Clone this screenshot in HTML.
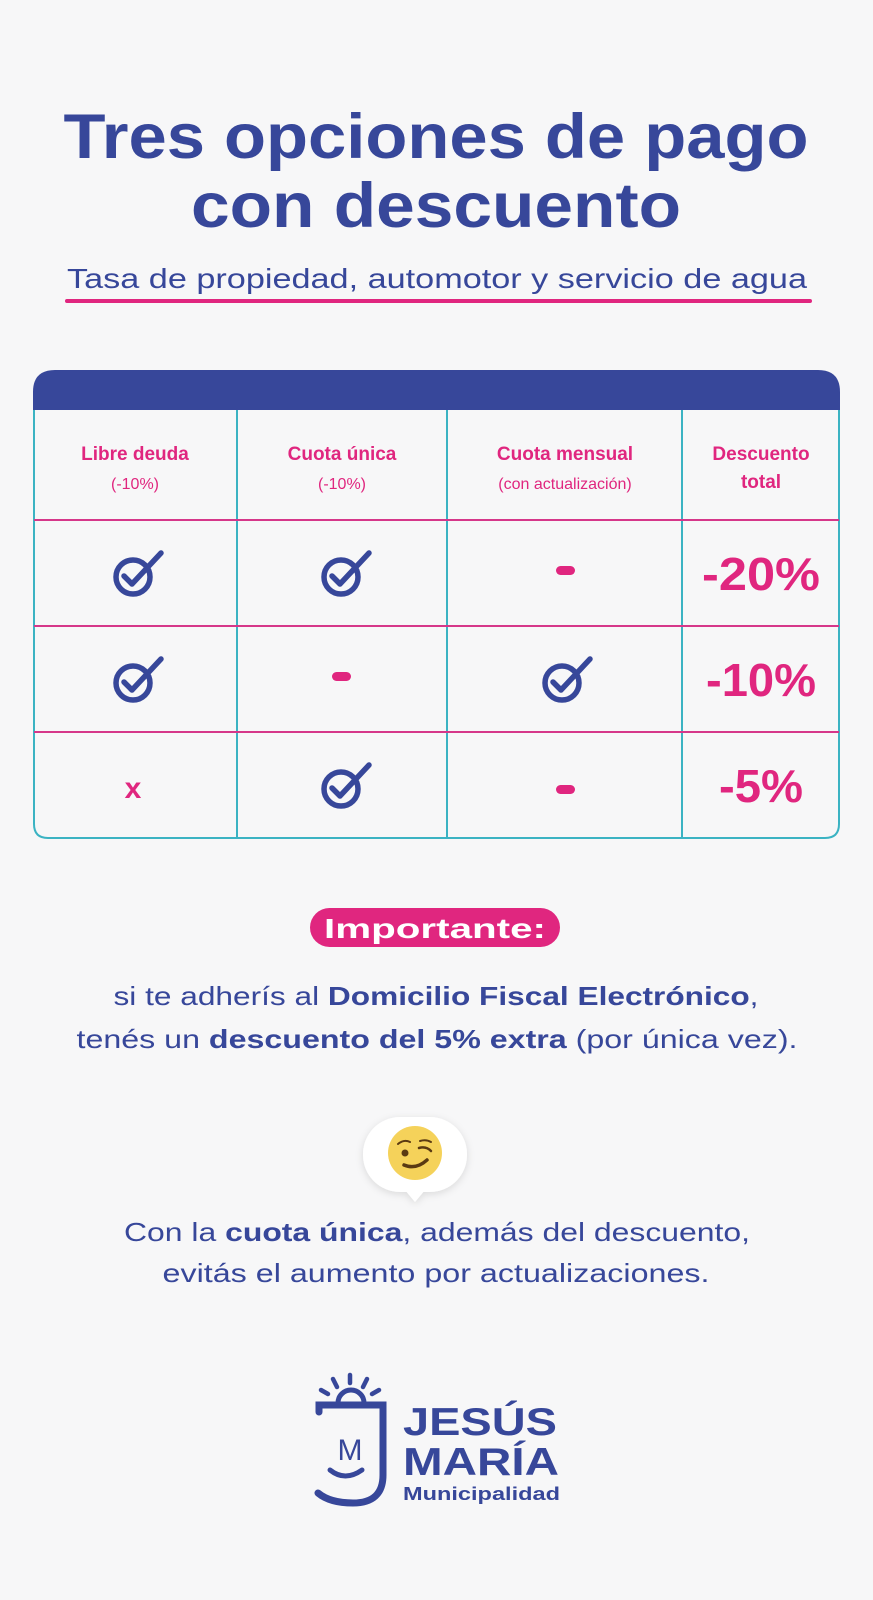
<!DOCTYPE html>
<html><head><meta charset="utf-8"><style>
html,body{margin:0;padding:0;background:#f7f7f8}
svg{display:block}
text{font-family:"Liberation Sans",sans-serif}
</style></head><body>
<svg width="873" height="1600" viewBox="0 0 873 1600" xmlns="http://www.w3.org/2000/svg">
<defs>
<g id="chk"><circle cx="0" cy="0" r="17" fill="none" stroke="#37479a" stroke-width="5.5"/><path d="M-9,-1 L-1,7 L28,-24" fill="none" stroke="#37479a" stroke-width="5.5" stroke-linecap="round" stroke-linejoin="round"/></g>
<filter id="sh" x="-30%" y="-30%" width="160%" height="160%"><feDropShadow dx="0" dy="2" stdDeviation="4" flood-color="#000" flood-opacity="0.12"/></filter>
</defs>
<rect width="873" height="1600" fill="#f7f7f8"/>
<text x="436" y="158" text-anchor="middle" font-size="63" font-weight="bold" fill="#37479a" textLength="745" lengthAdjust="spacingAndGlyphs">Tres opciones de pago</text>
<text x="436" y="227" text-anchor="middle" font-size="63" font-weight="bold" fill="#37479a" textLength="490" lengthAdjust="spacingAndGlyphs">con descuento</text>
<text x="437" y="288" text-anchor="middle" font-size="28" fill="#37479a" textLength="740" lengthAdjust="spacingAndGlyphs">Tasa de propiedad, automotor y servicio de agua</text>
<rect x="65" y="299" width="747" height="4" rx="2" fill="#e0267f"/>
<path d="M33,410 V392 Q33,370 55,370 H818 Q840,370 840,392 V410 Z" fill="#37479a"/>
<path d="M34,410 V824 Q34,838 48,838 H825 Q839,838 839,824 V410" fill="none" stroke="#3bb3c3" stroke-width="2"/>
<g stroke="#3bb3c3" stroke-width="2"><line x1="237" y1="410" x2="237" y2="838"/><line x1="447" y1="410" x2="447" y2="838"/><line x1="682" y1="410" x2="682" y2="838"/></g>
<g stroke="#d6378a" stroke-width="2"><line x1="34" y1="520" x2="839" y2="520"/><line x1="34" y1="626" x2="839" y2="626"/><line x1="34" y1="732" x2="839" y2="732"/></g>
<g fill="#e0267f" text-anchor="middle">
<text x="135" y="460" font-size="19" font-weight="bold">Libre deuda</text>
<text x="135" y="489" font-size="16">(-10%)</text>
<text x="342" y="460" font-size="19" font-weight="bold">Cuota única</text>
<text x="342" y="489" font-size="16">(-10%)</text>
<text x="565" y="460" font-size="19" font-weight="bold">Cuota mensual</text>
<text x="565" y="489" font-size="16">(con actualización)</text>
<text x="761" y="460" font-size="19" font-weight="bold">Descuento</text>
<text x="761" y="488" font-size="19" font-weight="bold">total</text>
<text x="761" y="590" font-size="46" font-weight="bold" textLength="118" lengthAdjust="spacingAndGlyphs">-20%</text>
<text x="761" y="696" font-size="46" font-weight="bold" textLength="110" lengthAdjust="spacingAndGlyphs">-10%</text>
<text x="761" y="802" font-size="46" font-weight="bold" textLength="84" lengthAdjust="spacingAndGlyphs">-5%</text>
<text x="133" y="798" font-size="30" font-weight="bold">x</text>
</g>
<use href="#chk" x="133" y="577"/>
<use href="#chk" x="341" y="577"/>
<use href="#chk" x="133" y="683"/>
<use href="#chk" x="562" y="683"/>
<use href="#chk" x="341" y="789"/>
<g fill="#e0267f"><rect x="556" y="566" width="19" height="9" rx="4.5"/><rect x="332" y="672" width="19" height="9" rx="4.5"/><rect x="556" y="785" width="19" height="9" rx="4.5"/></g>
<rect x="310" y="908" width="250" height="39" rx="19.5" fill="#e0267f"/>
<text x="435" y="938" text-anchor="middle" font-size="28" font-weight="bold" fill="#fff" textLength="222" lengthAdjust="spacingAndGlyphs">Importante:</text>
<text x="436" y="1005" text-anchor="middle" font-size="26" fill="#37479a" textLength="645" lengthAdjust="spacingAndGlyphs">si te adherís al <tspan font-weight="bold">Domicilio Fiscal Electrónico</tspan>,</text>
<text x="437" y="1048" text-anchor="middle" font-size="26" fill="#37479a" textLength="721" lengthAdjust="spacingAndGlyphs">tenés un <tspan font-weight="bold">descuento del 5% extra</tspan> (por única vez).</text>
<g filter="url(#sh)"><rect x="363" y="1117" width="104" height="75" rx="37" fill="#fff"/><path d="M405,1190 L415,1202 L425,1190 Z" fill="#fff"/></g>
<circle cx="415" cy="1153" r="27" fill="#f5d25a"/>
<circle cx="405" cy="1153" r="3.5" fill="#5a3a12"/>
<path d="M398,1144 Q404,1139 410,1142" fill="none" stroke="#5a3a12" stroke-width="2" stroke-linecap="round"/>
<path d="M419,1148 Q426,1146 431,1151" fill="none" stroke="#5a3a12" stroke-width="2.5" stroke-linecap="round"/>
<path d="M420,1141 Q426,1139 431,1142" fill="none" stroke="#5a3a12" stroke-width="2" stroke-linecap="round"/>
<path d="M404,1165 Q416,1170 427,1160" fill="none" stroke="#5a3a12" stroke-width="3.5" stroke-linecap="round"/>
<text x="437" y="1241" text-anchor="middle" font-size="26" fill="#37479a" textLength="626" lengthAdjust="spacingAndGlyphs">Con la <tspan font-weight="bold">cuota única</tspan>, además del descuento,</text>
<text x="436" y="1282" text-anchor="middle" font-size="26" fill="#37479a" textLength="547" lengthAdjust="spacingAndGlyphs">evitás el aumento por actualizaciones.</text>
<g fill="none" stroke="#37479a" stroke-linecap="round">
<path d="M338,1403 A13,13 0 0 1 364,1403" stroke-width="5"/>
<g stroke-width="4.5"><line x1="350" y1="1375" x2="350" y2="1383"/><line x1="333" y1="1379" x2="337" y2="1387"/><line x1="367" y1="1379" x2="363" y2="1387"/><line x1="321" y1="1390" x2="328" y2="1394"/><line x1="379" y1="1390" x2="372" y2="1394"/></g>
<path d="M319,1412 V1405 H383 V1475 Q383,1503 353,1503 Q330,1503 318,1493" stroke-width="7"/>
<path d="M330,1470 Q345,1482 362,1470" stroke-width="5"/>
</g>
<text x="350" y="1460" text-anchor="middle" font-size="30" fill="#37479a">M</text>
<text x="403" y="1435" font-size="39" font-weight="bold" fill="#37479a" textLength="154" lengthAdjust="spacingAndGlyphs">JESÚS</text>
<text x="403" y="1475" font-size="39" font-weight="bold" fill="#37479a" textLength="156" lengthAdjust="spacingAndGlyphs">MARÍA</text>
<text x="403" y="1500" font-size="18" font-weight="bold" fill="#37479a" textLength="157" lengthAdjust="spacingAndGlyphs">Municipalidad</text>
</svg>
</body></html>
